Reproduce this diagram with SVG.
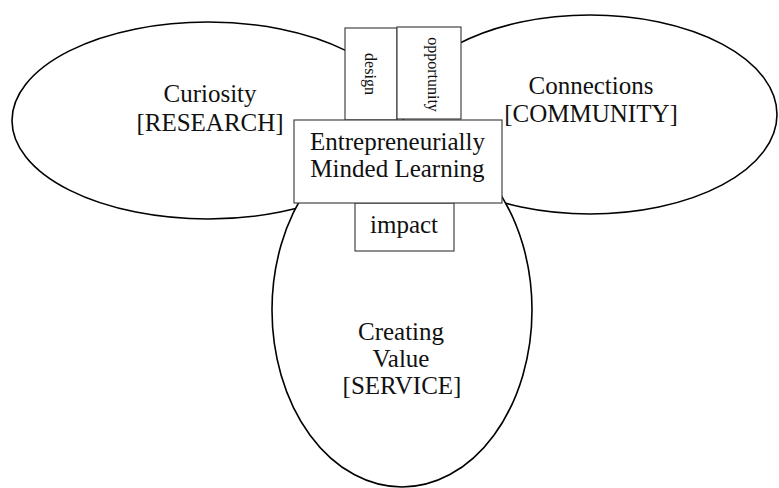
<svg xmlns="http://www.w3.org/2000/svg" width="779" height="488" viewBox="0 0 779 488">
<style>
.ell{fill:#fff;stroke:#000;stroke-width:1.6}
.box{fill:#fff;stroke:#333;stroke-width:1.1}
.t{font-family:"Liberation Serif","Times New Roman",serif;font-size:25px;fill:#111;text-anchor:middle}
.s{font-family:"Liberation Serif","Times New Roman",serif;font-size:16px;fill:#111;text-anchor:middle}
</style>
<rect width="779" height="488" fill="#fff"/>
<g id="curiosity">
<ellipse class="ell" cx="208" cy="120.5" rx="196" ry="98.5"/>
<text class="t" x="210" y="102">Curiosity</text>
<text class="t" x="210" y="131">[RESEARCH]</text>
</g>
<g id="connections">
<ellipse class="ell" cx="590" cy="114.5" rx="187" ry="99.5"/>
<text class="t" x="591" y="94">Connections</text>
<text class="t" x="591" y="122">[COMMUNITY]</text>
</g>
<g id="creating-value">
<ellipse class="ell" cx="402" cy="310" rx="130" ry="177"/>
<text class="t" x="401" y="340">Creating</text>
<text class="t" x="401" y="367">Value</text>
<text class="t" x="402" y="394">[SERVICE]</text>
</g>
<g id="connectors"></g>
<g id="design">
<rect class="box" x="345" y="28" width="52" height="92"/>
<text class="s" transform="translate(365,74) rotate(90)">design</text>
</g>
<g id="opportunity">
<rect class="box" x="397" y="27" width="64" height="92"/>
<text class="s" transform="translate(427.5,74.5) rotate(90)">opportunity</text>
</g>
<g id="impact">
<rect class="box" x="355" y="203" width="99" height="48"/>
<text class="t" x="404" y="233">impact</text>
</g>
<g id="eml">
<rect class="box" x="294" y="120" width="208" height="83"/>
<text class="t" x="397.5" y="150">Entrepreneurially</text>
<text class="t" x="397.5" y="177">Minded Learning</text>
</g>
</svg>
